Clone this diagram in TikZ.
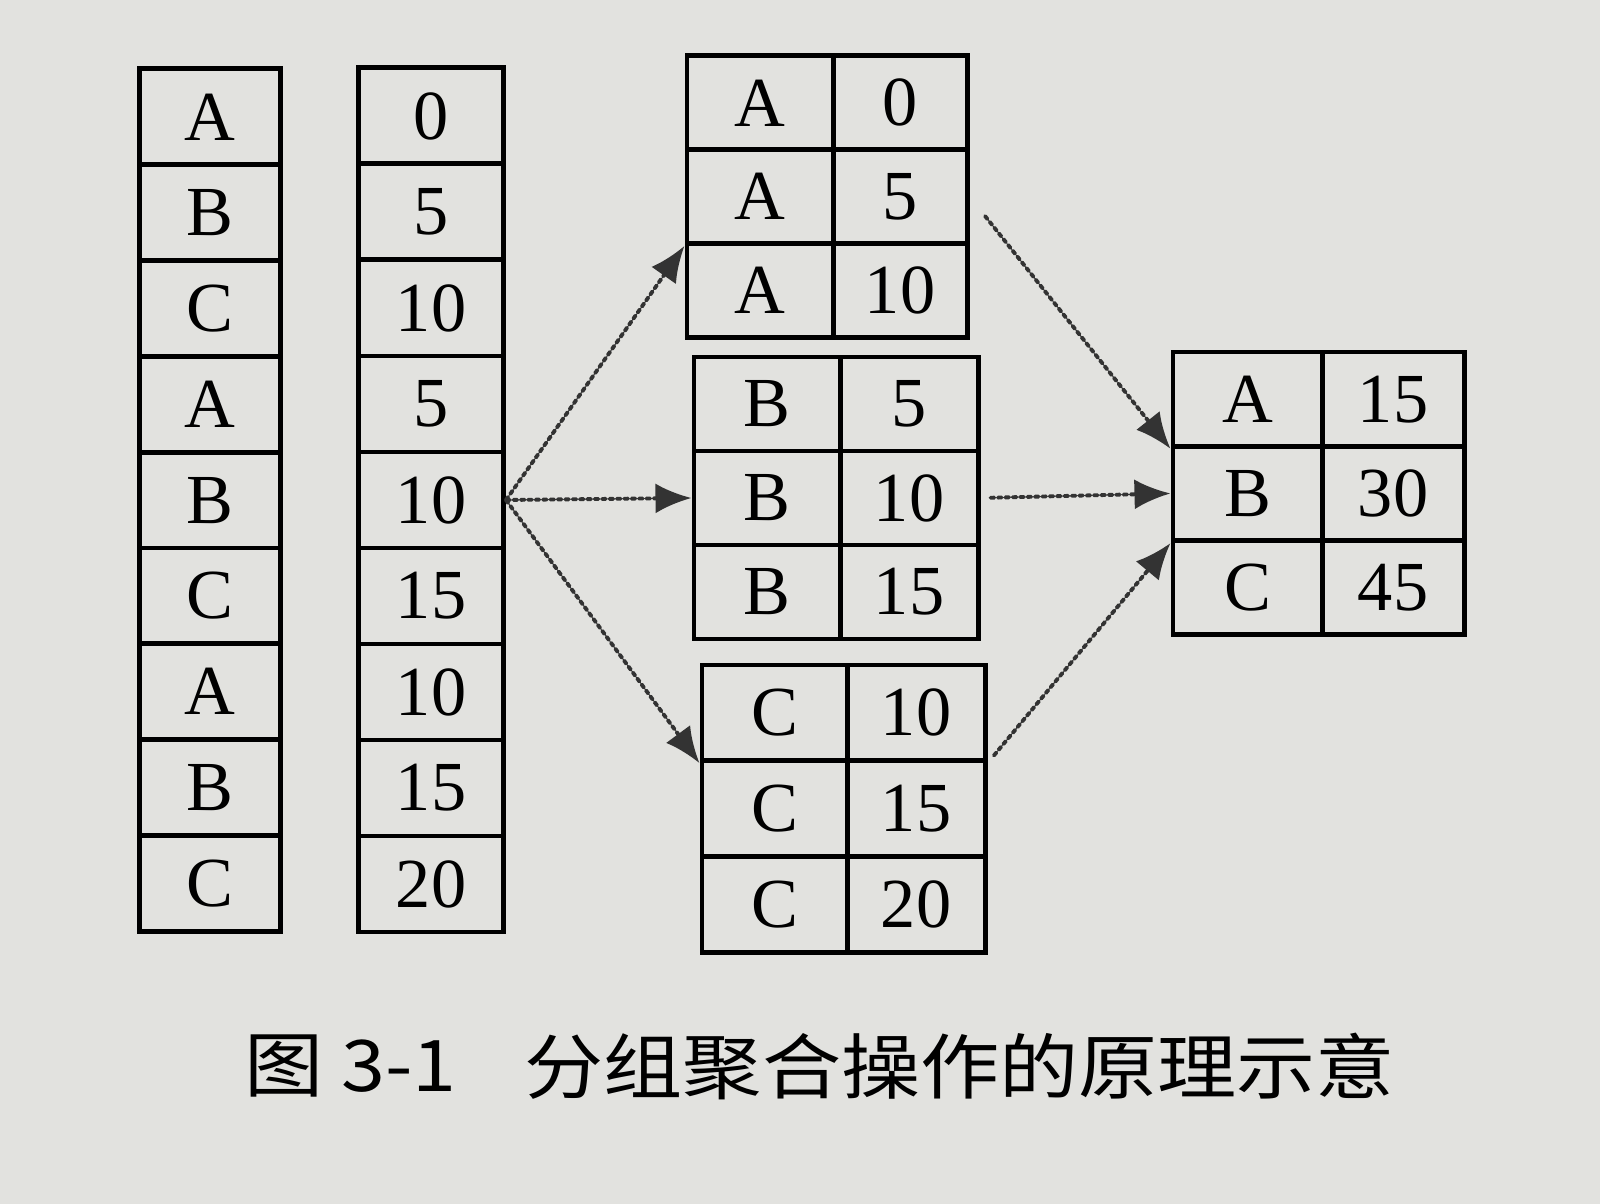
\documentclass[tikz,border=0pt]{standalone}
\usepackage{fontspec}
\setmainfont{Liberation Serif}
\newfontfamily\cjk{Noto Sans CJK SC}
\usepackage{tikz}
\usetikzlibrary{arrows.meta}
\usepackage{xcolor}

\definecolor{paper}{RGB}{226,226,223}
\tikzset{
  cell/.style={draw,line width=1.4pt,inner sep=0pt,font=\fontsize{20}{24}\selectfont},
  link/.style={->,densely dotted,line width=1.1pt,black!80},
  caption/.style={anchor=west,inner sep=0pt,yscale=0.9,font=\cjk\fontsize{22.5}{26}\selectfont},
}

\begin{document}
\begin{tikzpicture}[x=0.01cm,y=-0.01cm,>={Latex[length=3.6mm,width=3mm]},line cap=round]
\fill[paper] (0,0) rectangle (1600,1204);
\useasboundingbox (0,0) rectangle (1600,1204);
% source columns
\foreach \t [count=\i] in {A,B,C,A,B,C,A,B,C}
  \node[cell,minimum width=1.41cm,minimum height=0.958cm] (k\i) at (210,{69+95.8*(\i-0.5)}) {\t};
\foreach \t [count=\i] in {0,5,10,5,10,15,10,15,20}
  \node[cell,minimum width=1.45cm,minimum height=0.96cm] (v\i) at (431,{68+96*(\i-0.5)}) {\t};
% groups
\foreach \t [count=\i] in {0,5,10}{
  \node[cell,minimum width=1.46cm,minimum height=0.937cm] (ga\i) at (760,{56+93.7*(\i-0.5)}) {A};
  \node[cell,minimum width=1.34cm,minimum height=0.937cm] (gav\i) at (900,{56+93.7*(\i-0.5)}) {\t};
}
\foreach \t [count=\i] in {5,10,15}{
  \node[cell,minimum width=1.46cm,minimum height=0.94cm] (gb\i) at (767,{357+94*(\i-0.5)}) {B};
  \node[cell,minimum width=1.38cm,minimum height=0.94cm] (gbv\i) at (909,{357+94*(\i-0.5)}) {\t};
}
\foreach \t [count=\i] in {10,15,20}{
  \node[cell,minimum width=1.45cm,minimum height=0.957cm] (gc\i) at (774.5,{665+95.7*(\i-0.5)}) {C};
  \node[cell,minimum width=1.38cm,minimum height=0.957cm] (gcv\i) at (916,{665+95.7*(\i-0.5)}) {\t};
}
% result
\foreach \k/\t [count=\i] in {A/15,B/30,C/45}{
  \node[cell,minimum width=1.49cm,minimum height=0.943cm] (r\i) at (1247.5,{352+94.3*(\i-0.5)}) {\k};
  \node[cell,minimum width=1.42cm,minimum height=0.943cm] (rv\i) at (1393,{352+94.3*(\i-0.5)}) {\t};
}
% split and combine
\draw[link] (v5.east) -- (ga2.south west);
\draw[link] (v5.east) -- (gb2.west);
\draw[link] (v5.east) -- (gc1.south west);
\draw[link,shorten <=0.25cm] (gav2.east) -- (r1.south west);
\draw[link,shorten <=0.1cm] (gbv2.east) -- (r2.west);
\draw[link,shorten <=0.1cm] (gcv1.south east) -- (r2.south west);
% caption
\node[caption] (capnum) at (244,1066) {图 3-1};
\node[caption] (captext) at (524,1066) {分组聚合操作的原理示意};
\end{tikzpicture}
\end{document}
